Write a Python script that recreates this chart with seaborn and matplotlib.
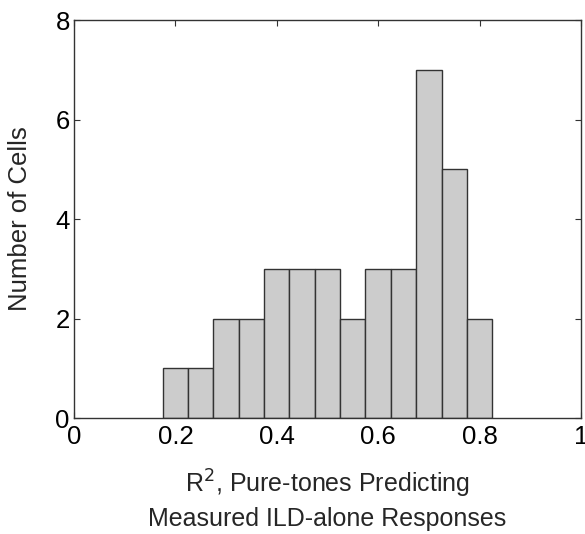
import numpy as np
import pandas as pd
import seaborn as sns
import matplotlib.pyplot as plt
from matplotlib.transforms import blended_transform_factory

# histogram counts (bin width 0.05)
bin_centers = [0.20, 0.25, 0.30, 0.35, 0.40, 0.45, 0.50, 0.55, 0.60, 0.65, 0.70, 0.75, 0.80]
cell_counts = [1, 1, 2, 2, 3, 3, 3, 2, 3, 3, 7, 5, 2]
x_ticks = [0, 0.2, 0.4, 0.6, 0.8, 1]
x_tick_labels = ["0", "0.2", "0.4", "0.6", "0.8", "1"]
y_ticks = [0, 2, 4, 6, 8]

df = pd.DataFrame({"r2": bin_centers, "n": cell_counts})
edges = [c - 0.025 for c in bin_centers] + [bin_centers[-1] + 0.025]

sns.set_style("white")
plt.rcParams["font.family"] = ["Liberation Sans", "DejaVu Sans"]

fig = plt.figure(figsize=(5.85, 5.34), dpi=100)
ax = fig.add_axes([0.1265, 0.217, 0.8665, 0.7455])

sns.histplot(data=df, x="r2", weights="n", bins=edges, color="#cccccc",
             edgecolor="#333333", linewidth=1.0, alpha=1, ax=ax)

ax.set_xlim(0, 1)
ax.set_ylim(0, 8)
ax.set_xticks(x_ticks)
ax.set_xticklabels(x_tick_labels)
ax.set_yticks(y_ticks)
ax.tick_params(direction="in", length=4, width=0.8, colors="#333333",
               labelcolor="black", labelsize=18.5, top=True, right=True,
               bottom=True, left=True)
ax.tick_params(axis="x", pad=5)
ax.tick_params(axis="y", pad=3)
for s in ax.spines.values():
    s.set_color("#333333")
    s.set_linewidth(1.0)

ax.set_xlabel("R$^2$, Pure-tones Predicting\nMeasured ILD-alone Responses",
              fontsize=18, linespacing=1.35)
ax.xaxis.set_label_coords(0.5, -0.125, transform=ax.transAxes)
ax.xaxis.label.set_va("top")
ax.set_ylabel("Number of Cells", fontsize=18.5)
ax.yaxis.set_label_coords(20 / 585, 0.5,
                          transform=blended_transform_factory(fig.transFigure, ax.transAxes))
ax.yaxis.label.set_va("center")

fig.savefig("out.png", dpi=100)
